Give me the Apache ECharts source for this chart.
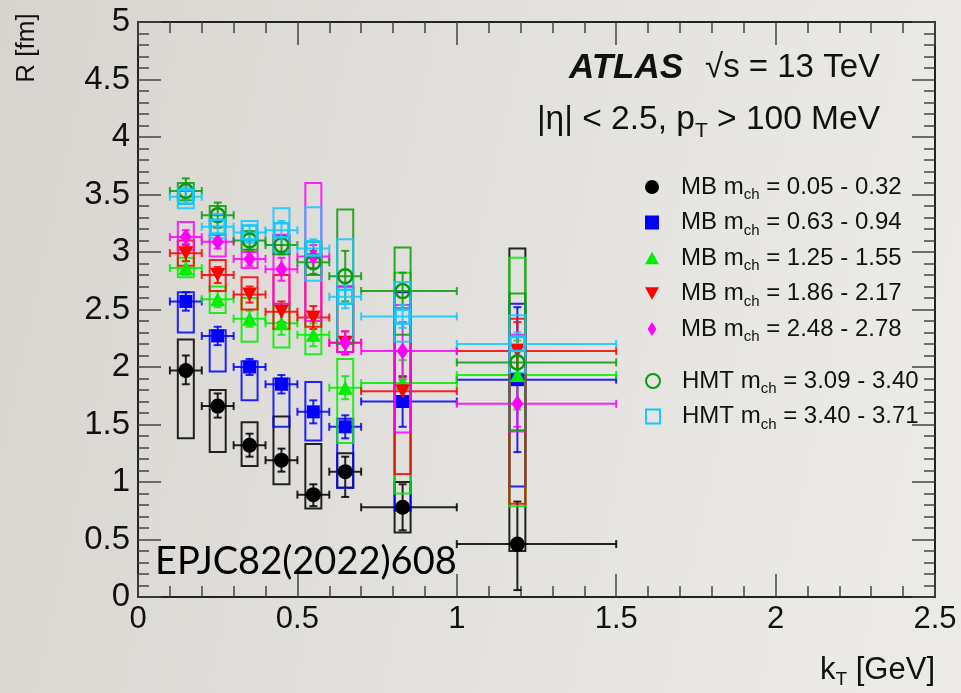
<!DOCTYPE html>
<html><head><meta charset="utf-8">
<script src="https://cdn.jsdelivr.net/npm/echarts@6/dist/echarts.min.js"></script>
<style>html,body{margin:0;padding:0;background:#e2e0dc;}#c{width:961px;height:693px;}</style>
</head><body><div id="c"></div>
<script>
// ---- data ----
const kT   = [0.15, 0.25, 0.35, 0.45, 0.55, 0.65, 0.83, 1.19];
const kTLo = [0.10, 0.20, 0.30, 0.40, 0.50, 0.60, 0.70, 1.00];
const kTHi = [0.20, 0.30, 0.40, 0.50, 0.60, 0.70, 1.00, 1.50];

const groupLabels = ['MB', 'MB', 'MB', 'MB', 'MB', 'HMT', 'HMT'];
const massRanges  = ['0.05 - 0.32', '0.63 - 0.94', '1.25 - 1.55', '1.86 - 2.17', '2.48 - 2.78', '3.09 - 3.40', '3.40 - 3.71'];

const xTicks = [0, 0.5, 1, 1.5, 2, 2.5];
const yTicks = [0, 0.5, 1, 1.5, 2, 2.5, 3, 3.5, 4, 4.5, 5];

// MB m_ch 0.05-0.32
const mb1R      = [1.97, 1.66, 1.32, 1.19, 0.89, 1.09, 0.78, 0.46];
const mb1StatUp = [0.13, 0.11, 0.10, 0.10, 0.09, 0.13, 0.20, 0.37];
const mb1StatDn = [0.12, 0.10, 0.10, 0.10, 0.10, 0.22, 0.20, 0.40];
const mb1SysLo  = [1.38, 1.26, 1.14, 0.98, 0.77, 0.95, 0.56, 0.40];
const mb1SysHi  = [2.24, 1.80, 1.52, 1.57, 1.33, 1.25, 1.00, 3.03];
// MB m_ch 0.63-0.94
const mb2R      = [2.57, 2.27, 2.00, 1.85, 1.61, 1.48, 1.70, 1.89];
const mb2StatUp = [0.08, 0.08, 0.07, 0.08, 0.10, 0.10, 0.22, 0.63];
const mb2StatDn = [0.08, 0.08, 0.07, 0.08, 0.10, 0.10, 0.22, 0.63];
const mb2SysLo  = [2.30, 1.96, 1.71, 1.48, 1.36, 0.95, 0.75, 0.96];
const mb2SysHi  = [2.65, 2.32, 2.05, 1.90, 1.87, 1.55, 2.65, 2.55];
// MB m_ch 1.25-1.55
const mb3R      = [2.86, 2.59, 2.42, 2.38, 2.28, 1.82, 1.86, 1.93];
const mb3StatUp = [0.06, 0.07, 0.07, 0.10, 0.10, 0.10, 0.20, 0.30];
const mb3StatDn = [0.06, 0.07, 0.07, 0.10, 0.10, 0.10, 0.20, 0.30];
const mb3SysLo  = [2.78, 2.47, 2.22, 2.17, 2.11, 1.34, 0.90, 0.79];
const mb3SysHi  = [2.95, 2.70, 2.60, 2.55, 2.45, 2.07, 2.82, 2.95];
// MB m_ch 1.86-2.17
const mb4R      = [2.99, 2.80, 2.63, 2.48, 2.43, 2.21, 1.79, 2.14];
const mb4StatUp = [0.07, 0.07, 0.07, 0.09, 0.10, 0.10, 0.12, 0.25];
const mb4StatDn = [0.07, 0.07, 0.07, 0.09, 0.10, 0.10, 0.12, 0.25];
const mb4SysLo  = [2.88, 2.66, 2.50, 2.33, 2.35, 2.13, 1.07, 0.81];
const mb4SysHi  = [3.10, 2.93, 2.78, 2.80, 2.98, 2.70, 2.51, 2.42];
// MB m_ch 2.48-2.78
const mb5R      = [3.13, 3.09, 2.94, 2.85, 2.96, 2.21, 2.14, 1.68];
const mb5StatUp = [0.06, 0.06, 0.06, 0.10, 0.10, 0.10, 0.25, 0.20];
const mb5StatDn = [0.06, 0.06, 0.06, 0.10, 0.10, 0.10, 0.25, 0.20];
const mb5SysLo  = [3.02, 2.96, 2.86, 2.55, 2.40, 2.13, 1.43, 1.44];
const mb5SysHi  = [3.26, 3.15, 3.00, 3.15, 3.60, 2.70, 2.54, 2.28];
// HMT m_ch 3.09-3.40
const hmt1R      = [3.53, 3.32, 3.10, 3.06, 2.91, 2.79, 2.66, 2.04];
const hmt1StatUp = [0.11, 0.11, 0.08, 0.08, 0.10, 0.22, 0.16, 0.10];
const hmt1StatDn = [0.11, 0.11, 0.08, 0.08, 0.10, 0.22, 0.16, 0.10];
const hmt1SysLo  = [3.45, 3.22, 3.02, 2.98, 2.80, 2.20, 2.28, 1.45];
const hmt1SysHi  = [3.60, 3.40, 3.18, 3.14, 3.09, 3.37, 3.04, 2.64];
// HMT m_ch 3.40-3.71
const hmt2R      = [3.48, 3.22, 3.17, 3.19, 3.03, 2.61, 2.44, 2.20];
const hmt2StatUp = [0.06, 0.06, 0.06, 0.08, 0.08, 0.10, 0.10, 0.10];
const hmt2StatDn = [0.06, 0.06, 0.06, 0.08, 0.08, 0.10, 0.10, 0.10];
const hmt2SysLo  = [3.38, 3.12, 3.08, 3.00, 2.75, 2.25, 2.22, 1.95];
const hmt2SysHi  = [3.56, 3.33, 3.27, 3.38, 3.39, 3.11, 2.74, 2.45];

// ---- styling ----
const FONT = "'Liberation Sans', Arial, sans-serif";
const defs = [
  {R: mb1R, up: mb1StatUp, dn: mb1StatDn, lo: mb1SysLo, hi: mb1SysHi, color: '#000000', symbol: 'circle', size: 15, hollow: false},
  {R: mb2R, up: mb2StatUp, dn: mb2StatDn, lo: mb2SysLo, hi: mb2SysHi, color: '#0000ff', symbol: 'path://M0,0L10,0L10,10L0,10Z', size: 13, hollow: false},
  {R: mb3R, up: mb3StatUp, dn: mb3StatDn, lo: mb3SysLo, hi: mb3SysHi, color: '#00ee00', symbol: 'path://M5,0L10,9L0,9Z', size: [15, 14], hollow: false},
  {R: mb4R, up: mb4StatUp, dn: mb4StatDn, lo: mb4SysLo, hi: mb4SysHi, color: '#ff0000', symbol: 'path://M0,0L10,0L5,9Z', size: [15, 14], hollow: false},
  {R: mb5R, up: mb5StatUp, dn: mb5StatDn, lo: mb5SysLo, hi: mb5SysHi, color: '#ff00ff', symbol: 'path://M5,0L10,8L5,16L0,8Z', size: [12, 17], hollow: false},
  {R: hmt1R, up: hmt1StatUp, dn: hmt1StatDn, lo: hmt1SysLo, hi: hmt1SysHi, color: '#0a9a0a', symbol: 'circle', size: 14, hollow: true},
  {R: hmt2R, up: hmt2StatUp, dn: hmt2StatDn, lo: hmt2SysLo, hi: hmt2SysHi, color: '#12c8ff', symbol: 'path://M0,0L10,0L10,10L0,10Z', size: 14, hollow: true}
];
const names = groupLabels.map((g, i) => g + ' ' + massRanges[i]);

function renderErr(color) {
  return function (params, api) {
    const x = api.value(0), xl = api.value(1), xh = api.value(2);
    const y = api.value(3), yl = api.value(4), yh = api.value(5);
    const sl = api.value(6), sh = api.value(7);
    const p = api.coord([x, y]);
    const pxl = api.coord([xl, y]), pxh = api.coord([xh, y]);
    const pyl = api.coord([x, yl]), pyh = api.coord([x, yh]);
    const psl = api.coord([x, sl]), psh = api.coord([x, sh]);
    const hw = 8, cap = 4;
    const st = {stroke: color, lineWidth: 2, fill: null, opacity: 0.85};
    const L = (x1, y1, x2, y2) => ({type: 'line', shape: {x1, y1, x2, y2}, style: st});
    return {
      type: 'group',
      children: [
        {type: 'rect', shape: {x: p[0] - hw, y: psh[1], width: 2 * hw, height: psl[1] - psh[1]}, style: st},
        L(pxl[0], p[1], pxh[0], p[1]),
        L(pxl[0], p[1] - cap, pxl[0], p[1] + cap),
        L(pxh[0], p[1] - cap, pxh[0], p[1] + cap),
        L(p[0], pyh[1], p[0], pyl[1]),
        L(p[0] - cap, pyh[1], p[0] + cap, pyh[1]),
        L(p[0] - cap, pyl[1], p[0] + cap, pyl[1])
      ]
    };
  };
}

const series = [];
defs.forEach((d, i) => {
  const data = kT.map((x, j) => [x, kTLo[j], kTHi[j], d.R[j], d.R[j] - d.dn[j], d.R[j] + d.up[j], d.lo[j], d.hi[j]]);
  series.push({
    type: 'custom', name: 'err' + i, renderItem: renderErr(d.color),
    data: data, encode: {x: [0, 1, 2], y: [3, 4, 5, 6, 7]}, z: 2, silent: true
  });
});
defs.forEach((d, i) => {
  series.push({
    type: 'scatter', name: names[i], symbol: d.symbol, symbolSize: d.size, symbolKeepAspect: false,
    data: kT.map((x, j) => [x, d.R[j]]), z: 3, silent: true,
    itemStyle: d.hollow ? {color: 'rgba(0,0,0,0)', borderColor: d.color, borderWidth: 2.5, opacity: 1}
                        : {color: d.color, borderWidth: 0, opacity: 1}
  });
});

const legendRich = {
  f: {fontSize: 24, fontFamily: FONT, color: '#111', lineHeight: 30, padding: [0, 0, 0, 17]},
  n: {fontSize: 24, fontFamily: FONT, color: '#111', lineHeight: 30},
  s: {fontSize: 15, fontFamily: FONT, color: '#111', verticalAlign: 'bottom', padding: [16, 0, 0, 0]}
};
function legendFmt(name) {
  const i = names.indexOf(name);
  return '{f|' + groupLabels[i] + ' m}{s|ch}{n| = ' + massRanges[i] + '}';
}
const legendBase = {
  orient: 'vertical', left: 640, itemWidth: 14, itemHeight: 14, itemGap: 8,
  formatter: legendFmt, textStyle: {rich: legendRich}, selectedMode: false
};

const axisCommon = {
  type: 'value', splitLine: {show: false},
  axisLine: {show: true, onZero: false, lineStyle: {color: '#222', width: 2}},
  axisTick: {show: true, inside: true, length: 23, lineStyle: {color: '#444', width: 1.5}},
  minorTick: {show: true, splitNumber: 5, length: 11, lineStyle: {color: '#444', width: 1.5}}
};

const option = {
  animation: false,
  backgroundColor: {type: 'linear', x: 0, y: 0, x2: 1, y2: 0.3,
    colorStops: [{offset: 0, color: '#d8d5d0'}, {offset: 0.5, color: '#e2e0dc'}, {offset: 1, color: '#ebeae7'}]},
  grid: {left: 138, right: 26, top: 22, bottom: 96, containLabel: false},
  xAxis: [
    Object.assign({}, axisCommon, {position: 'bottom', min: xTicks[0], max: xTicks[xTicks.length - 1], interval: 0.5,
      axisLabel: {show: true, fontSize: 31, fontFamily: "'Liberation Sans Narrow', " + FONT, color: '#111', margin: 7},
      name: 'k{s|T} [GeV]', nameLocation: 'end', nameGap: 0,
      nameTextStyle: {align: 'right', verticalAlign: 'top', padding: [54, 0, 0, 0], fontSize: 31,
        fontFamily: "'Liberation Sans Narrow', " + FONT, color: '#111',
        rich: {s: {fontSize: 19, fontFamily: FONT, color: '#111', verticalAlign: 'bottom', padding: [19, 0, 0, 0]}}}}),
    Object.assign({}, axisCommon, {position: 'top', min: xTicks[0], max: xTicks[xTicks.length - 1], interval: 0.5,
      axisLabel: {show: false}})
  ],
  yAxis: [
    Object.assign({}, axisCommon, {position: 'left', min: yTicks[0], max: yTicks[yTicks.length - 1], interval: 0.5,
      axisLabel: {show: true, fontSize: 33, fontFamily: FONT, color: '#111', margin: 8}}),
    Object.assign({}, axisCommon, {position: 'right', min: yTicks[0], max: yTicks[yTicks.length - 1], interval: 0.5,
      axisLabel: {show: false}})
  ],
  legend: [
    Object.assign({}, legendBase, {top: 170, data: names.slice(0, 5)}),
    Object.assign({}, legendBase, {top: 364, data: names.slice(5)})
  ],
  graphic: [
    {type: 'text', x: 27, y: 48, rotation: Math.PI / 2,
      style: {text: 'R [fm]', font: '26px ' + FONT, fill: '#111', align: 'center', verticalAlign: 'middle'}},
    {type: 'text', x: 880, y: 68,
      style: {text: '{a|ATLAS}{b|√s = 13 TeV}', align: 'right', verticalAlign: 'middle',
        rich: {a: {fontSize: 35, fontWeight: 'bold', fontStyle: 'italic', fontFamily: FONT, fill: '#111', padding: [0, 22, 0, 0]},
               b: {fontSize: 33, fontFamily: FONT, fill: '#111'}}}},
    {type: 'text', x: 880, y: 120,
      style: {text: '{b||η| < 2.5, p}{s|T}{b| > 100 MeV}', align: 'right', verticalAlign: 'middle',
        rich: {b: {fontSize: 33.5, fontFamily: FONT, fill: '#111', lineHeight: 36},
               s: {fontSize: 21, fontFamily: FONT, fill: '#111', verticalAlign: 'bottom', padding: [22, 0, 0, 0]}}}},
    {type: 'text', left: 155, top: 543,
      style: {text: 'EPJC82(2022)608', font: '38px Lato, sans-serif', fill: '#000'}}
  ],
  series: series
};

const chart = echarts.init(document.getElementById('c'));
chart.setOption(option);
</script>
</body></html>
